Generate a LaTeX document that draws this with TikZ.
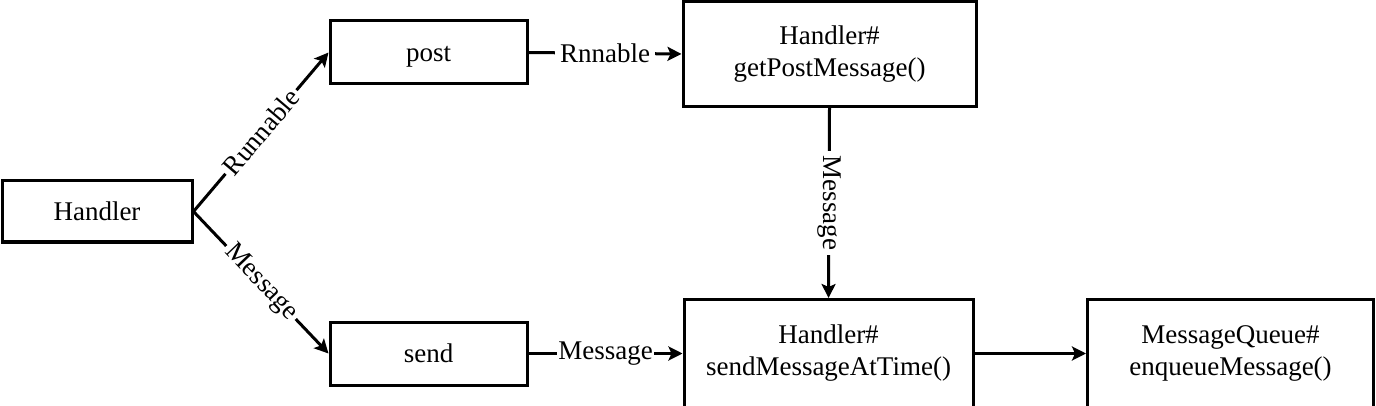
\documentclass[tikz,border=0pt]{standalone}
\usepackage{fontspec}
\setmainfont{Liberation Serif}
\usetikzlibrary{arrows.meta}
\begin{document}
\begin{tikzpicture}[x=1pt,y=-1pt,
  box/.style={draw=black,line width=3pt,inner sep=0pt,align=center,
    font=\fontsize{27}{32}\selectfont},
  onebox/.style={box,text height=22pt,text depth=4pt},
  conn/.style={line width=3pt,-{Stealth[length=14pt,width=14pt,inset=3pt]}},
  lbl/.style={fill=white,inner sep=5pt,font=\fontsize{27}{30}\selectfont}]
\useasboundingbox (0,0) rectangle (1376,406);
\node[onebox,minimum width=190pt,minimum height=61pt] (h) at (97,211.5) {Handler};
\node[onebox,minimum width=197pt,minimum height=63pt] (post) at (428.5,52.5) {post};
\node[onebox,minimum width=197pt,minimum height=63pt] (send) at (428.5,353.5) {send};
\node[box,minimum width=293pt,minimum height=105pt] (gpm) at (829.5,54) {Handler\#\\getPostMessage()};
\node[box,minimum width=289pt,minimum height=108pt] (smat) at (828.5,353.5) {Handler\#\\sendMessageAtTime()};
\node[box,minimum width=286pt,minimum height=108pt] (mq) at (1230.5,353.5) {MessageQueue\#\\enqueueMessage()};
\draw[conn] (h.east) -- node[lbl,sloped,inner sep=3pt]{Runnable} (post.west);
\draw[conn] (h.east) -- node[lbl,sloped,inner sep=3pt]{Message} (send.west);
\draw[conn] (post.east) -- node[lbl]{Rnnable} (gpm.west);
\draw[conn] (send.east) -- node[lbl,inner sep=1pt]{Message} (smat.west);
\draw[conn] (gpm.south) -- node[lbl,rotate=-90]{Message} (smat.north);
\draw[conn] (smat.east) -- (mq.west);
\end{tikzpicture}
\end{document}
